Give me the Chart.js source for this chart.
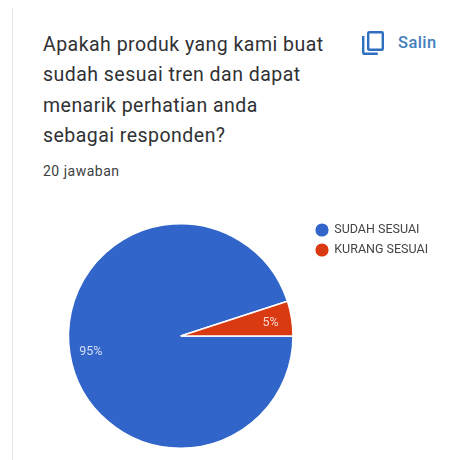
<!DOCTYPE html>
<html>
<head>
  <title>Apakah produk yang kami buat</title>
  <script src="https://cdn.jsdelivr.net/npm/chart.js"></script>
  <style>
    html, body { margin: 0; padding: 0; background: #fff; overflow: hidden; }
    body { width: 462px; height: 460px; position: relative; font-family: Roboto, sans-serif; color: #303134; }
    .edge { position: absolute; left: 12px; top: 8px; bottom: 0; width: 1px; background: #e2e2e2; }
    .question { position: absolute; left: 43px; top: 30px; font-size: 19.5px; line-height: 30.4px; letter-spacing: 0.47px; white-space: nowrap; }
    .count { position: absolute; left: 43px; top: 162px; font-size: 14px; line-height: 18px; letter-spacing: 0.5px; color: #3c4043; }
    .copy { position: absolute; left: 361px; top: 30px; }
    .salin { position: absolute; left: 398px; top: 33px; font-size: 16.5px; line-height: 20px; font-weight: 500; letter-spacing: 0.4px; color: #4480bb; }
    #pie { position: absolute; left: 0; top: 200px; }
  </style>
</head>
<body>
  <div class="edge"></div>
  <div class="question">Apakah produk yang kami buat<br>sudah sesuai tren dan dapat<br>menarik perhatian anda<br>sebagai responden?</div>
  <div class="count">20 jawaban</div>
  <svg class="copy" width="24" height="26" viewBox="0 0 24 26" fill="none" stroke="#2f6fc0" stroke-width="2.4">
    <rect x="7.2" y="2.2" width="14.6" height="17.6" rx="1"/>
    <path d="M2.2 6v16.2a1.6 1.6 0 0 0 1.6 1.6h13"/>
  </svg>
  <div class="salin">Salin</div>

  <canvas id="pie" width="462" height="260"></canvas>

  <script>
    const categories = ['SUDAH SESUAI', 'KURANG SESUAI'];
    const shares = [95, 5];
    const sliceColors = ['#3165c9', '#da3a12'];

    // Writes the percentage inside each slice, at 81% of the radius
    const sliceLabels = {
      id: 'sliceLabels',
      afterDatasetsDraw(chart) {
        const ctx = chart.ctx;
        ctx.save();
        ctx.font = '12.5px Roboto, sans-serif';
        ctx.fillStyle = 'rgba(255,255,255,0.78)';
        ctx.textAlign = 'center';
        ctx.textBaseline = 'middle';
        chart.getDatasetMeta(0).data.forEach(function(arc, i) {
          const mid = (arc.startAngle + arc.endAngle) / 2;
          const r = arc.outerRadius * 0.81;
          ctx.fillText(shares[i] + '%', arc.x + Math.cos(mid) * r, arc.y + Math.sin(mid) * r + 1.5);
        });
        ctx.restore();
      }
    };

    // Moves the legend away from the pie, level with its top edge
    const legendOffset = {
      id: 'legendOffset',
      afterLayout(chart) {
        chart.legend.left = 308.5;
        chart.legend.right = 455;
        chart.legend.top = 16.25;
      }
    };

    new Chart(document.getElementById('pie').getContext('2d'), {
      type: 'pie',
      data: {
        labels: categories,
        datasets: [{
          data: shares,
          backgroundColor: sliceColors,
          borderColor: '#fff',
          borderWidth: 1.5,
          hoverOffset: 0
        }]
      },
      options: {
        responsive: false,
        animation: false,
        rotation: 90,
        layout: { padding: { left: 67, top: 23, bottom: 11, right: 38 } },
        plugins: {
          tooltip: { enabled: false },
          legend: {
            position: 'right',
            align: 'start',
            labels: {
              usePointStyle: true,
              pointStyle: 'circle',
              boxWidth: 12,
              boxHeight: 10.4,
              padding: 7.5,
              color: '#444',
              font: { family: 'Roboto, sans-serif', size: 12.5 }
            }
          }
        }
      },
      plugins: [sliceLabels, legendOffset]
    });
  </script>
</body>
</html>
